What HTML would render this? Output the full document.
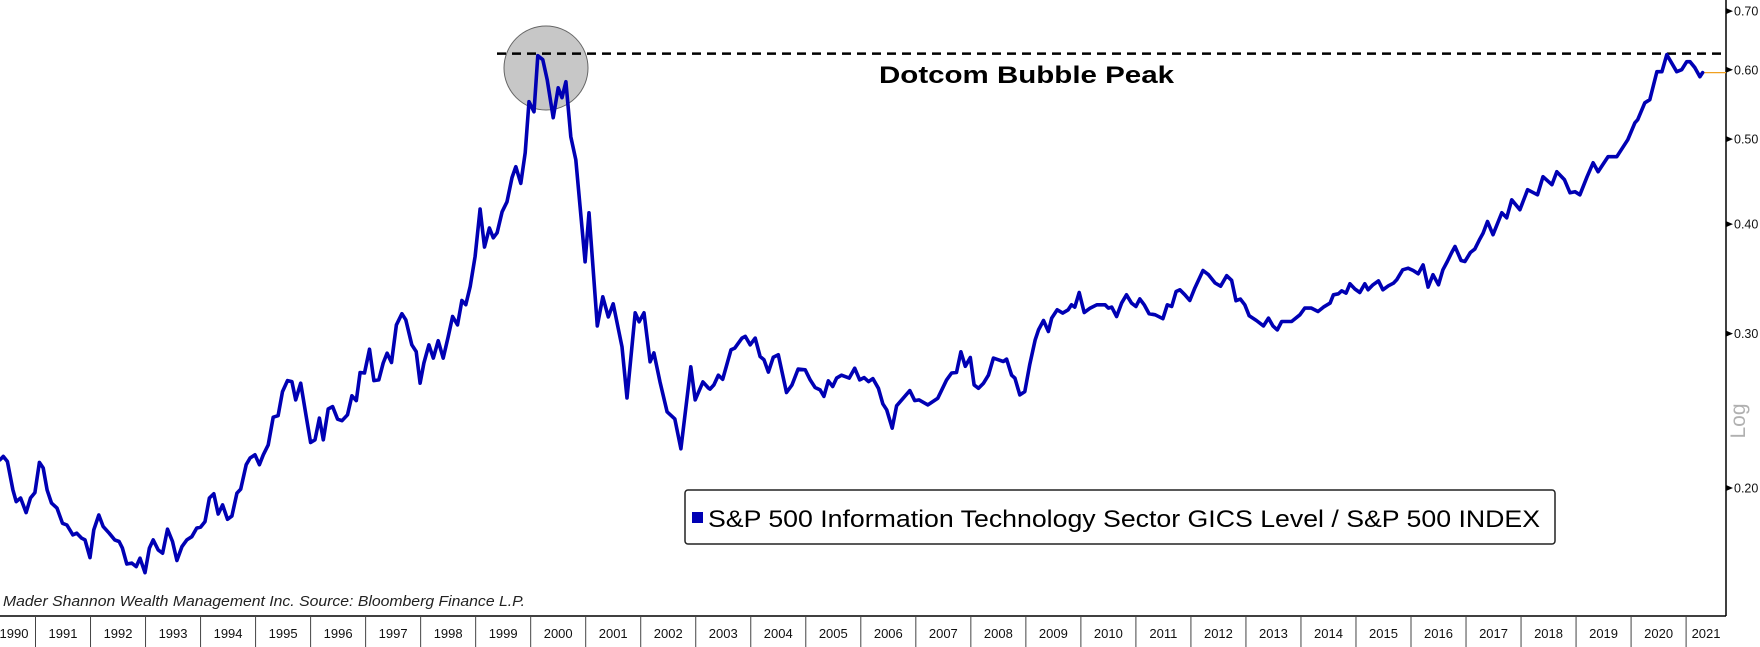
<!DOCTYPE html>
<html><head><meta charset="utf-8"><style>
html,body{margin:0;padding:0;background:#fff;}
svg{display:block;font-family:"Liberation Sans",sans-serif;}
</style></head><body>
<svg id="chart" width="1760" height="647" viewBox="0 0 1760 647" xmlns="http://www.w3.org/2000/svg">
<rect x="0" y="0" width="1760" height="647" fill="#fff"/>
<g id="bg"></g>
<line x1="0" y1="616" x2="1726" y2="616" stroke="#000" stroke-width="1.5"/>
<line x1="1726" y1="0" x2="1726" y2="616" stroke="#000" stroke-width="1.5"/>
<g id="xaxis"></g>
<g id="yaxis"></g>
<text transform="translate(1745,421) rotate(-90)" text-anchor="middle" font-size="21" fill="#b0b0b0">Log</text>
<circle cx="546" cy="68" r="42" fill="#b4b4b4" fill-opacity="0.75" stroke="#666" stroke-width="1"/>
<line id="peakline" x1="497" x2="1726" stroke="#000" stroke-width="2.5" stroke-dasharray="9,6"/>
<text x="879" y="83" font-size="24" font-weight="bold" fill="#000" textLength="295" lengthAdjust="spacingAndGlyphs">Dotcom Bubble Peak</text>
<g id="series"></g>
<g>
<rect x="685" y="490" width="870" height="54" rx="3" fill="#fff" stroke="#222" stroke-width="1.5"/>
<rect x="692" y="512" width="11" height="11" fill="#0000b4"/>
<text x="708" y="527" font-size="24" fill="#000" textLength="832" lengthAdjust="spacingAndGlyphs">S&amp;P 500 Information Technology Sector GICS Level / S&amp;P 500 INDEX</text>
</g>
<text x="3" y="606" font-size="15" font-style="italic" fill="#222" textLength="522" lengthAdjust="spacingAndGlyphs">Mader Shannon Wealth Management Inc. Source: Bloomberg Finance L.P.</text>
</svg>
<script>
const dates = [1990.355,1990.415,1990.49,1990.59,1990.65,1990.73,1990.83,1990.91,1990.99,1991.07,1991.14,1991.21,1991.29,1991.39,1991.49,1991.57,1991.68,1991.75,1991.84,1991.90,1991.99,1992.06,1992.15,1992.23,1992.34,1992.44,1992.52,1992.58,1992.66,1992.75,1992.83,1992.90,1992.99,1993.07,1993.14,1993.23,1993.31,1993.40,1993.49,1993.57,1993.66,1993.75,1993.84,1993.93,1994.00,1994.08,1994.16,1994.24,1994.32,1994.40,1994.49,1994.57,1994.66,1994.73,1994.83,1994.90,1994.99,1995.07,1995.14,1995.23,1995.32,1995.41,1995.49,1995.58,1995.66,1995.73,1995.82,1995.92,1996.00,1996.08,1996.16,1996.23,1996.32,1996.40,1996.49,1996.57,1996.67,1996.75,1996.83,1996.90,1996.98,1997.07,1997.15,1997.24,1997.32,1997.39,1997.47,1997.56,1997.66,1997.73,1997.84,1997.92,1997.99,1998.06,1998.15,1998.23,1998.32,1998.41,1998.50,1998.58,1998.67,1998.75,1998.82,1998.90,1998.99,1999.08,1999.16,1999.25,
1999.32,1999.39,1999.48,1999.57,1999.66,1999.73,1999.82,1999.90,1999.97,2000.06,2000.13,2000.22,2000.30,2000.41,2000.50,2000.57,2000.64,2000.73,2000.82,2000.99,2001.06,2001.21,2001.31,2001.41,2001.50,2001.66,2001.75,2001.90,2001.97,2002.06,2002.17,2002.24,2002.35,2002.48,2002.62,2002.73,2002.91,2002.99,2003.13,2003.23,
2003.26,2003.33,2003.41,2003.49,2003.64,2003.71,2003.84,2003.90,2003.99,2004.08,2004.17,2004.24,2004.32,2004.41,2004.50,2004.65,2004.75,2004.86,2004.99,2005.08,2005.17,2005.26,2005.33,2005.41,2005.49,2005.56,2005.65,2005.79,2005.89,2005.98,2006.06,2006.14,2006.22,2006.32,2006.40,2006.47,2006.57,2006.65,2006.77,2006.89,2006.98,2007.06,2007.22,2007.40,2007.56,2007.65,2007.74,2007.82,2007.90,2007.99,2008.06,2008.14,2008.23,2008.32,2008.41,2008.50,2008.59,2008.65,2008.74,2008.80,2008.89,2008.98,2009.07,2009.17,2009.23,2009.32,2009.41,2009.47,2009.57,2009.67,2009.77,2009.83,2009.89,2009.97,2010.06,2010.17,2010.29,2010.44,2010.50,2010.56,2010.65,2010.74,
2010.83,2010.92,2011.00,2011.07,2011.15,2011.24,2011.35,2011.49,2011.57,2011.65,2011.73,2011.80,2011.89,2011.98,2012.07,2012.22,2012.32,2012.44,2012.54,2012.65,2012.74,2012.82,2012.90,2012.98,2013.06,2013.19,2013.32,2013.41,2013.49,2013.57,2013.65,2013.83,2013.98,2014.07,2014.19,2014.31,2014.41,2014.53,2014.59,2014.68,2014.74,2014.82,2014.89,2014.98,2015.07,2015.16,2015.22,2015.31,2015.41,2015.49,2015.59,2015.68,2015.74,2015.85,2015.95,2016.04,2016.13,2016.22,2016.31,2016.40,2016.50,2016.58,2016.66,2016.74,2016.80,2016.91,2016.98,2017.08,2017.16,2017.25,2017.31,2017.39,
2017.49,2017.65,2017.74,2017.83,2017.98,2018.12,2018.30,2018.40,2018.56,2018.65,2018.79,2018.89,2018.98,2019.07,2019.20,2019.31,2019.40,2019.58,2019.74,2019.94,2020.07,2020.12,2020.25,2020.34,2020.47,2020.56,2020.65,2020.83,2020.92,2021.01,2021.07,2021.16,2021.25,2021.30];
const ratioValues = [0.2154,0.2173,0.2144,0.1990,0.1930,0.1948,0.1875,0.1948,0.1976,0.2139,0.2108,0.1990,0.1922,0.1897,0.1823,0.1815,0.1768,0.1776,0.1753,0.1745,0.1666,0.1792,0.1863,0.1807,0.1776,0.1745,0.1738,0.1708,0.1638,0.1642,0.1627,0.1663,0.1601,0.1708,0.1745,0.1700,0.1685,0.1795,0.1738,0.1653,0.1714,0.1745,0.1760,0.1800,0.1805,0.1831,0.1948,0.1970,0.1868,0.1913,0.1842,0.1858,0.1973,0.1994,0.2126,0.2164,0.2182,0.2126,0.2182,0.2240,0.2409,0.2418,0.2576,0.2652,0.2645,0.2521,0.2634,0.2414,0.2254,0.2270,0.2403,0.2270,0.2461,0.2477,0.2396,0.2387,0.2424,0.2548,0.2516,0.2709,0.2705,0.2880,0.2652,0.2657,0.2777,0.2850,0.2781,0.3070,0.3161,0.3111,0.2913,0.2862,0.2634,0.2777,0.2913,0.2813,0.2945,0.2813,0.2976,0.3138,0.3070,0.3273,0.3237,0.3396,0.3674,0.4161,0.3766,0.3959,
0.3859,0.3910,0.4132,0.4242,0.4520,0.4651,0.4452,0.4825,0.5517,0.5373,0.6226,0.6161,0.5845,0.5290,0.5723,0.5575,0.5815,0.5033,0.4737,0.3623,0.4121,0.3062,0.3305,0.3135,0.3245,0.2898,0.2534,0.3169,0.3095,0.3169,0.2786,0.2852,0.2643,0.2443,0.2398,0.2217,0.2750,0.2521,0.2643,0.2601,
0.2593,0.2622,0.2690,0.2661,0.2875,0.2888,0.2965,0.2978,0.2913,0.2965,0.2825,0.2801,0.2712,0.2820,0.2838,0.2570,0.2622,0.2733,0.2728,0.2657,0.2604,0.2588,0.2544,0.2650,0.2611,0.2669,0.2690,0.2669,0.2740,0.2657,0.2673,0.2645,0.2666,0.2599,0.2495,0.2456,0.2341,0.2482,0.2532,0.2583,0.2516,0.2521,0.2488,0.2532,0.2657,0.2705,0.2709,0.2860,0.2753,0.2818,0.2622,0.2599,0.2634,0.2690,0.2813,0.2801,0.2788,0.2806,0.2690,0.2669,0.2554,0.2576,0.2764,0.2952,0.3030,0.3105,0.3017,0.3125,0.3194,0.3166,0.3194,0.3236,0.3217,0.3342,0.3171,0.3208,0.3236,0.3236,0.3208,0.3217,0.3138,0.3251,
0.3322,0.3251,0.3222,0.3287,0.3236,0.3161,0.3152,0.3120,0.3236,0.3222,0.3351,0.3366,0.3322,0.3273,0.3381,0.3541,0.3502,0.3427,0.3398,0.3493,0.3451,0.3271,0.3285,0.3236,0.3144,0.3105,0.3062,0.3125,0.3062,0.3030,0.3097,0.3097,0.3152,0.3208,0.3208,0.3180,0.3217,0.3251,0.3322,0.3331,0.3357,0.3337,0.3420,0.3373,0.3342,0.3420,0.3366,0.3411,0.3446,0.3366,0.3402,0.3425,0.3456,0.3548,0.3563,0.3541,0.3511,0.3594,0.3390,0.3502,0.3411,0.3548,0.3626,0.3713,0.3772,0.3635,0.3626,0.3713,0.3746,0.3846,0.3907,0.4028,
0.3890,0.4121,0.4067,0.4264,0.4154,0.4378,0.4320,0.4531,0.4436,0.4590,0.4494,0.4343,0.4355,0.4320,0.4531,0.4699,0.4590,0.4775,0.4775,0.4993,0.5220,0.5262,0.5501,0.5546,0.5970,0.5970,0.6243,0.5970,0.6001,0.6129,0.6129,0.6033,0.5892,0.5955];
const yTicks = [0.20,0.30,0.40,0.50,0.60,0.70];
const yTickLabels = ["0.20","0.30","0.40","0.50","0.60","0.70"];
const years = [1990,1991,1992,1993,1994,1995,1996,1997,1998,1999,2000,2001,2002,2003,2004,2005,2006,2007,2008,2009,2010,2011,2012,2013,2014,2015,2016,2017,2018,2019,2020,2021];
const peakValue = 0.6226;

const NS = "http://www.w3.org/2000/svg";
function xScale(d){ return 35.5 + (d - 1991) * 55.02; }
function yScale(v){ return 488 - 380.7 * Math.log(v / 0.2); }
function mk(tag, attrs, parent){ const e=document.createElementNS(NS,tag); for(const k in attrs) e.setAttribute(k,attrs[k]); parent.appendChild(e); return e; }

const xg = document.getElementById('xaxis');
years.forEach(function(yr){
  const x0 = xScale(yr), x1 = xScale(yr+1);
  if (x0 > 0) {
    const sep = mk('line',{x1:x0,y1:616,x2:x0,y2:647,stroke:'#444','stroke-width':1},xg);
    
    
  }
  const t = mk('text',{x:Math.max((x0+Math.min(x1,1726))/2,14),y:638,'text-anchor':'middle','font-size':13,fill:'#111'},xg);
  
  
  t.textContent = String(yr);
});

const yg = document.getElementById('yaxis');
yTicks.forEach(function(v,i){
  const y = yScale(v);
  const tk = mk('path',{d:'M1726,'+(y-3)+' L1733,'+y+' L1726,'+(y+3)+' Z',fill:'#000'},yg);
  
  
  const t = mk('text',{x:1734,y:y+4.5,'font-size':12.5,fill:'#111'},yg);
  
  
  t.textContent = yTickLabels[i];
});

const pl = document.getElementById('peakline');
pl.setAttribute('y1', yScale(peakValue) - 2);
pl.setAttribute('y2', yScale(peakValue) - 2);

const sg = document.getElementById('series');
let d = '';
dates.forEach(function(dt,i){ d += (i?'L':'M') + xScale(dt).toFixed(1) + ',' + yScale(ratioValues[i]).toFixed(1); });
const lastY = yScale(ratioValues[ratioValues.length-1]);
const lastX = xScale(dates[dates.length-1]);
const ol = mk('line',{x1:lastX,y1:lastY,x2:1726,y2:lastY,stroke:'#f0a020','stroke-width':1.2},sg);


const path = mk('path',{d:d,fill:'none',stroke:'#0000b4','stroke-width':3.6,'stroke-linejoin':'round','stroke-linecap':'round'},sg);


</script>
</body></html>
